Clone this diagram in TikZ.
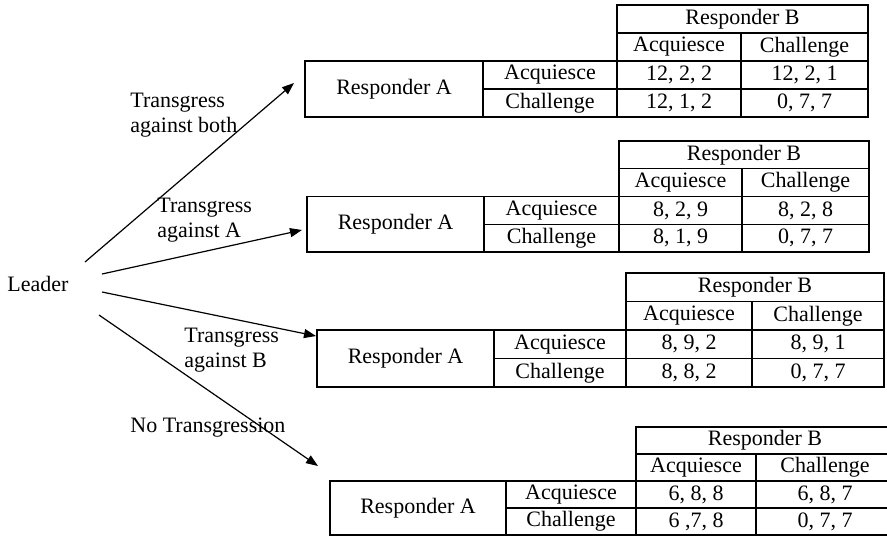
\documentclass[tikz,border=0pt]{standalone}
\usepackage{fontspec}
\setmainfont{Liberation Serif}
\usetikzlibrary{arrows.meta}

\newcommand{\setgrid}[7]{%
    \def\cola{#1}\def\colb{#2}\def\colc{#3}\def\cold{#4}\def\cole{#5}%
    \def\rowtop{#6}\pgfmathsetmacro{\rowh}{(#7-#6)/4}}
\newcommand{\paycell}[6]{%
    \node[cell,minimum width={(#4-#2)*0.5pt},minimum height={(#5-#3)*0.5pt}]
        (#1) at ({(#2+#4)/2},{(#3+#5)/2}) {#6};}
\newcommand{\paytable}[5]{%
    \pgfmathsetmacro{\ryb}{\rowtop+\rowh}%
    \pgfmathsetmacro{\ryc}{\rowtop+2*\rowh}%
    \pgfmathsetmacro{\ryd}{\rowtop+3*\rowh}%
    \pgfmathsetmacro{\rye}{\rowtop+4*\rowh}%
    \paycell{#1-b}{\colc}{\rowtop}{\cole}{\ryb}{Responder B}
    \paycell{#1-ba}{\colc}{\ryb}{\cold}{\ryc}{Acquiesce}
    \paycell{#1-bc}{\cold}{\ryb}{\cole}{\ryc}{Challenge}
    \paycell{#1-a}{\cola}{\ryc}{\colb}{\rye}{Responder A}
    \paycell{#1-aa}{\colb}{\ryc}{\colc}{\ryd}{Acquiesce}
    \paycell{#1-ac}{\colb}{\ryd}{\colc}{\rye}{Challenge}
    \paycell{#1-11}{\colc}{\ryc}{\cold}{\ryd}{#2}
    \paycell{#1-12}{\cold}{\ryc}{\cole}{\ryd}{#3}
    \paycell{#1-21}{\colc}{\ryd}{\cold}{\rye}{#4}
    \paycell{#1-22}{\cold}{\ryd}{\cole}{\rye}{#5}}

\begin{document}
\begin{tikzpicture}[font=\fontsize{11}{12.5}\selectfont,x=0.5pt,y=-0.5pt,
    >={Triangle[length=6pt,width=4.5pt]}]
    \tikzset{
        cell/.style={
            draw,
            line width=0.6pt,
            inner sep=0pt,
            anchor=center
        },
        move/.style={
            anchor=west,
            align=left,
            inner sep=0pt
        },
        link/.style={->,line width=0.6pt}
    }
    \useasboundingbox (0,0) rectangle (887,538);

    \setgrid{305}{483}{617}{741}{868}{5}{117}
    \paytable{t1}{12, 2, 2}{12, 2, 1}{12, 1, 2}{0, 7, 7}
    \setgrid{307}{484}{619}{742}{869}{141}{252}
    \paytable{t2}{8, 2, 9}{8, 2, 8}{8, 1, 9}{0, 7, 7}
    \setgrid{317}{494}{626}{752}{884}{273}{387}
    \paytable{t3}{8, 9, 2}{8, 9, 1}{8, 8, 2}{0, 7, 7}
    \setgrid{330}{506}{636}{756}{894}{427}{535}
    \paytable{t4}{6, 8, 8}{6, 8, 7}{6 ,7, 8}{0, 7, 7}

    \node[move] (leader) at (7,284) {Leader};

    \node[move] (both) at (130,115.5) {Transgress\\against both};
    \node[move] (onA) at (157,220) {Transgress\\against A};
    \node[move] (onB) at (184,350.5) {Transgress\\against B};
    \node[move] (none) at (130,428) {No Transgression};

    \coordinate (out1) at (85,262);
    \coordinate (out2) at (102,274);
    \coordinate (out3) at (102,292);
    \coordinate (out4) at (99,315);
    \coordinate (in1) at (294,83);
    \coordinate (in2) at (302,230);
    \coordinate (in3) at (316,336);
    \coordinate (in4) at (318,466);

    \draw[link] (out1) -- (in1);
    \draw[link] (out2) -- (in2);
    \draw[link] (out3) -- (in3);
    \draw[link] (out4) -- (in4);
\end{tikzpicture}
\end{document}
